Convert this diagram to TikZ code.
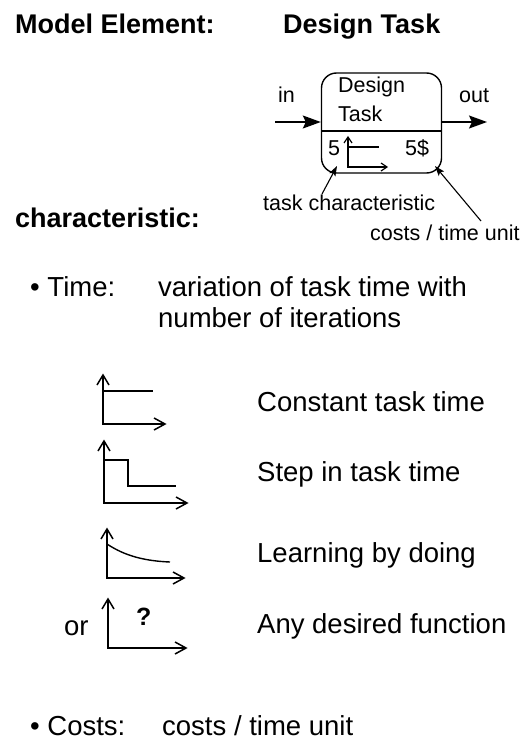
\documentclass[tikz,border=0pt]{standalone}
\usepackage{fontspec}
\setmainfont{Liberation Sans}
\usetikzlibrary{arrows.meta}
\begin{document}
\begin{tikzpicture}[x=1pt,y=-1pt,
  head/.style={font=\fontsize{27}{32}\selectfont\bfseries, anchor=base west, inner sep=0pt},
  body/.style={font=\fontsize{27.5}{32}\selectfont, anchor=base west, inner sep=0pt},
  small/.style={font=\fontsize{21.5}{25}\selectfont, anchor=base west, inner sep=0pt},
  flow/.style={line width=1.4pt, -{Stealth[length=18pt,width=13pt,inset=3pt]}},
  leader/.style={line width=1.1pt, -{Stealth[length=10pt,width=7pt,inset=2pt]}},
  axes/.style={line width=1.5pt, line join=miter},
  miniaxes/.style={line width=1.2pt, line join=miter},
  curve/.style={line width=1.4pt},
  taskbox/.style={draw, line width=1.4pt, rounded corners=15pt, minimum width=120pt, minimum height=100pt, inner sep=0pt}
]
\useasboundingbox (0,0) rectangle (527,744);

% headings
\node[head] (hModel) at (15,33) {Model Element:};
\node[head] (hTask) at (283,33) {Design Task};
\node[head] (hChar) at (15,227) {characteristic:};

% the design task symbol
\node[taskbox] (task) at (381.5,123) {};
\coordinate (divL) at (321.5,131);
\coordinate (divR) at (441.5,131);
\draw[line width=1.4pt] (divL) -- (divR);
\node[small] (tName1) at (338,92) {Design};
\node[small] (tName2) at (338,121) {Task};
\node[small] (tTime) at (328,155) {5};
\node[small] (tCost) at (405,155) {5\$};
\coordinate (mO) at (348,167);
\coordinate (mY) at (348,137);
\coordinate (mX) at (387,167);
\coordinate (mL) at (348,147);
\coordinate (mR) at (379,147);
\draw[miniaxes] (mY) -- (mO) -- (mX);
\draw[miniaxes] (mY) ++(-4,6) -- (mY) -- ++(4,6);
\draw[miniaxes] (mX) ++(-6,-4) -- (mX) -- ++(-6,4);
\draw[line width=1.2pt] (mL) -- (mR);

% input and output flows
\node[small] (lblIn) at (278,102) {in};
\node[small] (lblOut) at (459,102) {out};
\coordinate (inTail) at (275,122);
\coordinate (outTip) at (487,122);
\draw[flow] (inTail) -- (inTail -| task.west);
\draw[flow] (outTip -| task.east) -- (outTip);

% annotations
\node[small] (annChar) at (263,210) {task characteristic};
\node[small] (annCost) at (370,240) {costs / time unit};
\coordinate (charTail) at (322,194);
\coordinate (charTip) at (337,166);
\coordinate (costTail) at (481,221);
\coordinate (costTip) at (435,166);
\draw[leader] (charTail) -- (charTip);
\draw[leader] (costTail) -- (costTip);

% time characteristic
\node[body] (bTime) at (30,296) {\textbullet\ Time:};
\node[body] (tDesc1) at (158,296) {variation of task time with};
\node[body] (tDesc2) at (158,327) {number of iterations};

% constant task time
\coordinate (c1Y) at (103,375);
\coordinate (c1O) at (103,424);
\coordinate (c1X) at (165,424);
\draw[axes] (c1Y) -- (c1O) -- (c1X);
\draw[axes] (c1Y) ++(-6,10) -- (c1Y) -- ++(6,10);
\draw[axes] (c1X) ++(-11,-6) -- (c1X) -- ++(-11,6);
\draw[curve] (103,391) -- (153,391);
\node[body] (l1) at (257,411) {Constant task time};

% step in task time
\coordinate (c2Y) at (104,441);
\coordinate (c2O) at (104,503);
\coordinate (c2X) at (187,503);
\draw[axes] (c2Y) -- (c2O) -- (c2X);
\draw[axes] (c2Y) ++(-6,10) -- (c2Y) -- ++(6,10);
\draw[axes] (c2X) ++(-11,-6) -- (c2X) -- ++(-11,6);
\draw[curve] (104,460) -- (128,460) -- (128,486) -- (176,486);
\node[body] (l2) at (257,481) {Step in task time};

% learning by doing
\coordinate (c3Y) at (107,529);
\coordinate (c3O) at (107,578);
\coordinate (c3X) at (184,578);
\draw[axes] (c3Y) -- (c3O) -- (c3X);
\draw[axes] (c3Y) ++(-6,10) -- (c3Y) -- ++(6,10);
\draw[axes] (c3X) ++(-11,-6) -- (c3X) -- ++(-11,6);
\draw[curve] (107,544) .. controls (125,556) and (145,561) .. (170,562);
\node[body] (l3) at (257,562) {Learning by doing};

% any desired function
\coordinate (c4Y) at (108,599);
\coordinate (c4O) at (108,648);
\coordinate (c4X) at (186,648);
\draw[axes] (c4Y) -- (c4O) -- (c4X);
\draw[axes] (c4Y) ++(-6,10) -- (c4Y) -- ++(6,10);
\draw[axes] (c4X) ++(-11,-6) -- (c4X) -- ++(-11,6);
\node[font=\fontsize{25}{30}\selectfont\bfseries, anchor=base west, inner sep=0pt] (qm) at (136,625) {?};
\node[body] (lOr) at (64,635) {or};
\node[body] (l4) at (257,633) {Any desired function};

% cost characteristic
\node[body] (bCost) at (30,735) {\textbullet\ Costs:};
\node[body] (cDesc) at (162,735) {costs / time unit};
\end{tikzpicture}
\end{document}
